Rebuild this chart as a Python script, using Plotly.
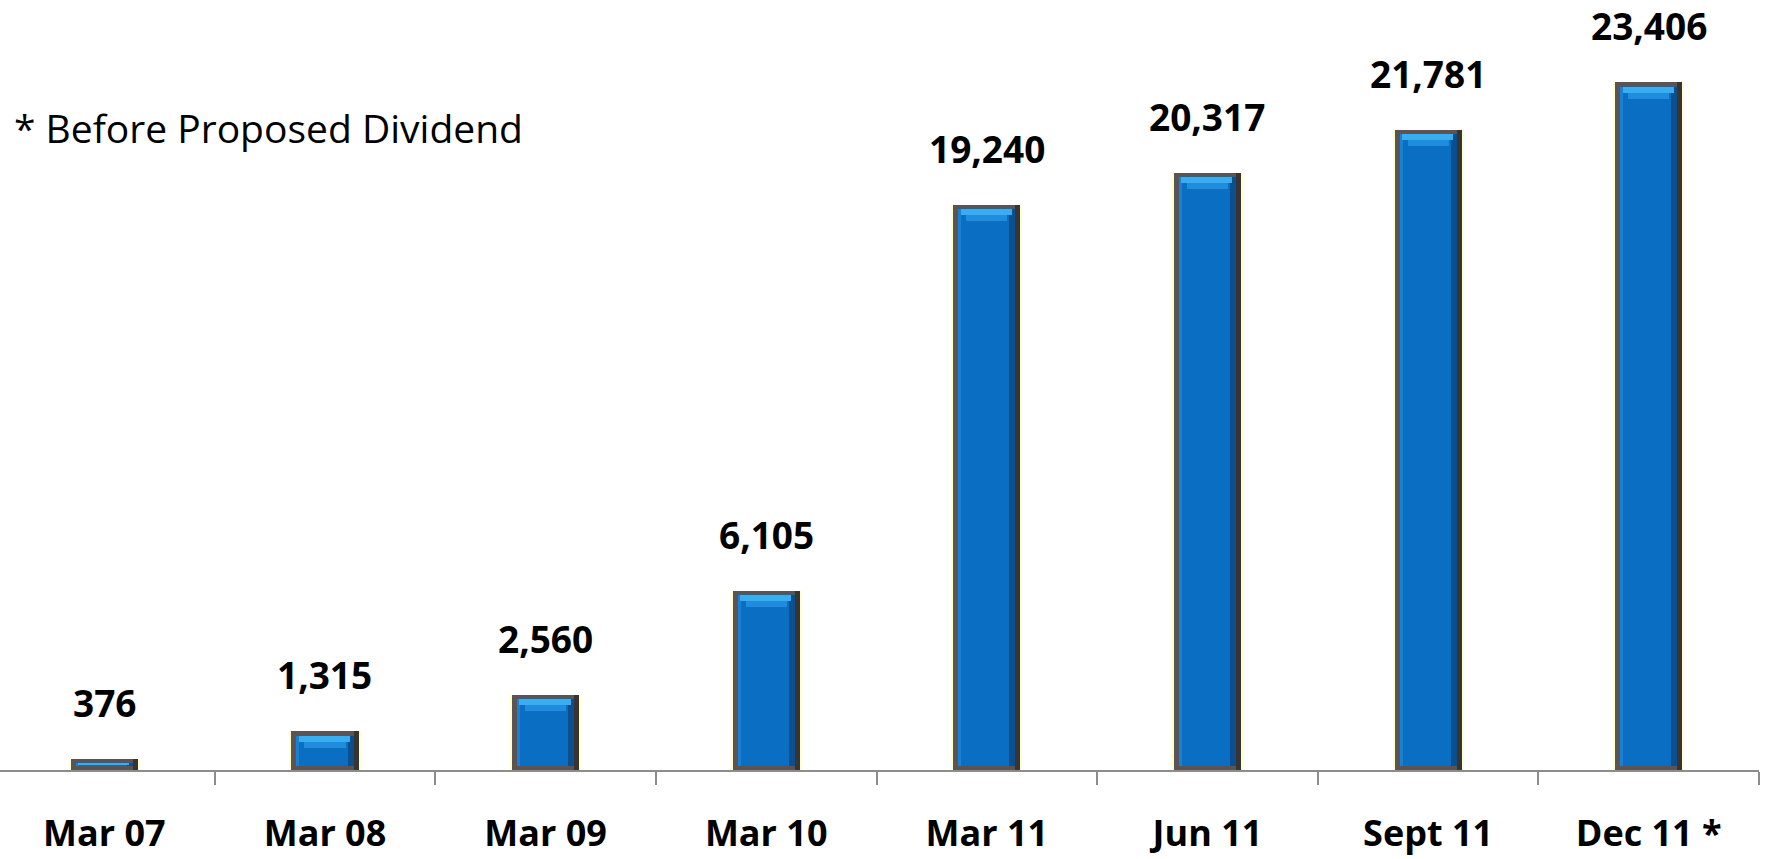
import plotly.graph_objects as go

# Shareholders' equity by reporting period
periods = ["Mar 07", "Mar 08", "Mar 09", "Mar 10", "Mar 11", "Jun 11", "Sept 11", "Dec 11 *"]
equity = [376, 1315, 2560, 6105, 19240, 20317, 21781, 23406]
footnote = "* Before Proposed Dividend"

# Canvas / plot geometry
W, H = 1765, 859
M_L, M_R, M_T, M_B = 0, 6, 0, 89
X_RANGE = [-0.473, 7.5]
Y_MAX = 26200

plot_w = W - M_L - M_R
plot_h = H - M_T - M_B
px_x = (X_RANGE[1] - X_RANGE[0]) / plot_w   # category units per pixel
px_y = Y_MAX / plot_h                        # value units per pixel

BAR_W = 0.304
border_x, border_y = 5 * px_x, 4.5 * px_y
edge_x = 6 * px_x

inner_w = BAR_W - 2 * border_x
inner_h = [max(v - 2 * border_y, 0) for v in equity]
top = [v - border_y for v in equity]
# two-step top bevel (light band, then mid band below it)
hi1 = [min(6 * px_y, h * 0.3) for h in inner_h]
hi2 = [min(6 * px_y, h * 0.25) for h in inner_h]
hi1_base = [t - a for t, a in zip(top, hi1)]
hi2_base = [t - a - b for t, a, b in zip(top, hi1, hi2)]

fig = go.Figure()

# soft glow behind the bars
fig.add_trace(go.Bar(x=periods, y=equity, width=BAR_W + 4 * px_x,
                     marker=dict(color="rgba(255,255,180,0.7)", line_width=0)))
# grey bevel frame
fig.add_trace(go.Bar(x=periods, y=equity, width=BAR_W,
                     marker=dict(color="#5c5454", line_width=0)))
# darker right side of frame
fig.add_trace(go.Bar(x=periods, y=equity, width=border_x, offset=BAR_W / 2 - border_x,
                     marker=dict(color="#383434", line_width=0)))
# blue face
fig.add_trace(go.Bar(x=periods, y=inner_h, base=border_y, width=inner_w,
                     marker=dict(color="#0a6fc2", line_width=0)))
# light left edge of face
fig.add_trace(go.Bar(x=periods, y=inner_h, base=border_y, width=3 * px_x,
                     offset=-inner_w / 2,
                     marker=dict(color="#1a80d2", line_width=0)))
# shaded right edge of face
fig.add_trace(go.Bar(x=periods, y=inner_h, base=border_y, width=edge_x,
                     offset=inner_w / 2 - edge_x,
                     marker=dict(color="#0c4f8f", line_width=0)))
# top bevel: mid band
fig.add_trace(go.Bar(x=periods, y=hi2, base=hi2_base, width=inner_w - 2 * edge_x - 4 * px_x,
                     offset=-inner_w / 2 + edge_x + 2 * px_x,
                     marker=dict(color="#1f8ddb", line_width=0)))
# top bevel: light band
fig.add_trace(go.Bar(x=periods, y=hi1, base=hi1_base, width=inner_w - edge_x,
                     offset=-inner_w / 2 + edge_x * 0.4,
                     marker=dict(color="#38adf0", line_width=0)))

# value labels
for p, v in zip(periods, equity):
    fig.add_annotation(x=p, y=v, text=f"{v:,}", showarrow=False,
                       yanchor="bottom", yshift=29,
                       font=dict(family="Open Sans", size=37, color="#000000", weight="bold"))

fig.add_annotation(xref="x domain", yref="y domain",
                   x=12 / plot_w, y=1 - 127 / plot_h, text=footnote,
                   showarrow=False, xanchor="left", yanchor="middle",
                   font=dict(family="Open Sans", size=39, color="#000000"))

fig.update_layout(
    width=W, height=H,
    margin=dict(l=M_L, r=M_R, t=M_T, b=M_B),
    barmode="overlay", bargap=0,
    showlegend=False,
    plot_bgcolor="white", paper_bgcolor="white",
    font=dict(family="Open Sans", color="#000000"),
)
fig.update_xaxes(
    range=X_RANGE, showgrid=False, zeroline=False, automargin=False,
    showline=True, linecolor="#8c8c8c", linewidth=2,
    ticks="outside", tickson="boundaries", ticklen=13, tickwidth=2, tickcolor="#8c8c8c",
    ticklabelstandoff=31,
    tickfont=dict(family="Open Sans", size=36, color="#000000", weight="bold"),
)
fig.update_yaxes(range=[0, Y_MAX], visible=False, showgrid=False, zeroline=False,
                 automargin=False)

fig.write_html("out.html")
